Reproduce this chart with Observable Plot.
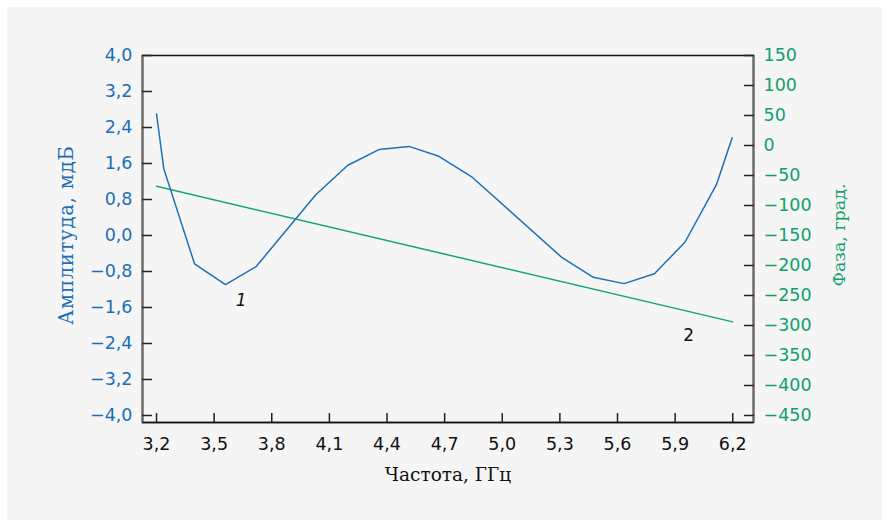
<!DOCTYPE html>
<html>
<head>
<meta charset="utf-8">
<script src="https://cdn.jsdelivr.net/npm/d3@7"></script>
<script src="https://cdn.jsdelivr.net/npm/@observablehq/plot@0.6"></script>
<style>
  html, body { margin: 0; padding: 0; background: #fff; }
  #chart svg { display: block; }
</style>
</head>
<body>
<div id="chart"></div>
<script>
// Amplitude curve (1)
const freqAmp = [3.20, 3.238, 3.398, 3.559, 3.719, 4.028, 4.196, 4.358, 4.514, 4.670, 4.839, 5.308, 5.474, 5.634, 5.792, 5.951, 6.115, 6.197];
const amp     = [2.70, 1.48, -0.63, -1.09, -0.69, 0.90, 1.56, 1.91, 1.98, 1.76, 1.31, -0.48, -0.93, -1.07, -0.85, -0.15, 1.13, 2.17];
// Phase curve (2)
const freqPhase = [3.20, 6.20];
const phase     = [-68, -294];
// Ticks
const xTicks = [3.2, 3.5, 3.8, 4.1, 4.4, 4.7, 5.0, 5.3, 5.6, 5.9, 6.2];
const ampTicks = [4.0, 3.2, 2.4, 1.6, 0.8, 0.0, -0.8, -1.6, -2.4, -3.2, -4.0];
const phaseTicks = [150, 100, 50, 0, -50, -100, -150, -200, -250, -300, -350, -400, -450];
// Curve labels
const curveLabels = ["1", "2"];
const labelX = [3.64, 5.97];
const labelY = [-1.44, -2.22];
// Titles
const ampTitle = "Амплитуда, мдБ";
const phaseTitle = "Фаза, град.";
const freqTitle = "Частота, ГГц";

const BLUE = "#1d70b7", BLUE_T = "#1a6fb4";
const GREEN = "#14a673", GREEN_T = "#10a06c";

// phase -> amplitude units (150 ↔ 4.0, -450 ↔ -4.0)
const toAmp = p => -4 + (p + 450) * 8 / 600;
const fromAmp = a => (a + 4) * 600 / 8 - 450;
const minus = s => s.replace("-", "\u2212");
const fmtDec = v => minus(v.toFixed(1).replace(".", ","));
const none = () => "";

const ampData = freqAmp.map((f, i) => ({f, v: amp[i]}));
const phaseData = freqPhase.map((f, i) => ({f, v: toAmp(phase[i])}));
const labels = curveLabels.map((t, i) => ({t, x: labelX[i], y: labelY[i]}));

const sans = "'DejaVu Sans', sans-serif";
const serif = "'DejaVu Serif', serif";
const TS = 17.5;

const chart = Plot.plot({
  width: 889,
  height: 527,
  marginLeft: 142,
  marginRight: 136,
  marginTop: 55,
  marginBottom: 105,
  style: {background: "#f5f5f5", outline: "7px solid #fff", outlineOffset: "-7px", fontFamily: sans},
  x: {domain: [3.127, 6.308], axis: null},
  y: {domain: [-4.156, 4.0], axis: null},
  marks: [
    Plot.frame({stroke: "#111", strokeWidth: 1.5}),
    Plot.ruleX([3.127], {stroke: "#666", strokeWidth: 2}),
    Plot.ruleX([6.308], {stroke: "#666", strokeWidth: 2}),
    Plot.ruleY([-4.156], {stroke: "#111", strokeWidth: 1.5}),
    // left axis
    Plot.axisY(ampTicks, {anchor: "left", tickSize: 10, dx: 10, stroke: "#222", strokeWidth: 1.5, tickFormat: none}),
    Plot.axisY(ampTicks, {anchor: "left", tickSize: 0, tickPadding: 10, fontSize: TS, color: BLUE_T, tickFormat: fmtDec}),
    // right axis
    Plot.axisY(phaseTicks.map(toAmp), {anchor: "right", tickSize: 10, dx: -10, stroke: "#222", strokeWidth: 1.5, tickFormat: none}),
    Plot.axisY(phaseTicks.map(toAmp), {anchor: "right", tickSize: 0, tickPadding: 10, fontSize: TS, color: GREEN_T,
      tickFormat: a => minus(String(Math.round(fromAmp(a))))}),
    // bottom axis
    Plot.axisX(xTicks, {anchor: "bottom", tickSize: 9, dy: -9, stroke: "#222", strokeWidth: 1.5, tickFormat: none}),
    Plot.axisX(xTicks, {anchor: "bottom", tickSize: 0, tickPadding: 15, fontSize: TS, color: "#111", tickFormat: fmtDec}),
    // curves
    Plot.line(phaseData, {x: "f", y: "v", stroke: GREEN, strokeWidth: 1.5}),
    Plot.line(ampData, {x: "f", y: "v", stroke: BLUE, strokeWidth: 1.5}),
    Plot.text(labels.slice(0, 1), {x: "x", y: "y", text: "t", fontStyle: "italic", fontSize: 17, fill: "#111"}),
    Plot.text(labels.slice(1), {x: "x", y: "y", text: "t", fontSize: 17, fill: "#111"}),
    // titles
    Plot.text([ampTitle], {frameAnchor: "left", textAnchor: "middle", dx: -76, dy: -4, rotate: -90, fontSize: 19.5,
      fontFamily: serif, fill: BLUE_T}),
    Plot.text([phaseTitle], {frameAnchor: "right", textAnchor: "middle", dx: 86, dy: -4, rotate: -90, fontSize: 17.5,
      fontFamily: serif, fill: GREEN_T}),
    Plot.text([freqTitle], {frameAnchor: "bottom", dy: 58, fontSize: 18.5,
      fontFamily: serif, fill: "#111"})
  ]
});
// widen the amplitude title a little (typewriter-like spacing of the original)
d3.select(chart).selectAll("text").filter(function () { return this.textContent === ampTitle; })
  .style("letter-spacing", "0.8px");
document.getElementById("chart").appendChild(chart);
</script>
</body>
</html>
